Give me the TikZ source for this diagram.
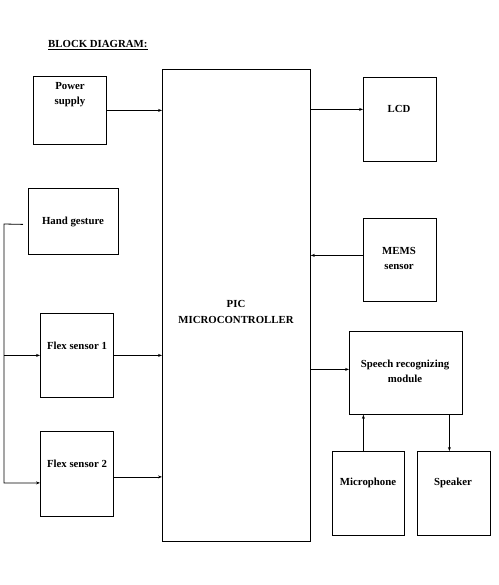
\documentclass[tikz,border=0pt]{standalone}
\usepackage{fontspec}
\setmainfont{Liberation Serif}
\usetikzlibrary{arrows.meta}
\begin{document}
\begin{tikzpicture}[x=1pt,y=-1pt,
  blk/.style={draw,line width=0.8pt,inner sep=0pt,anchor=north west},
  lbl/.style={font=\fontsize{10.8}{12}\selectfont\bfseries,align=center,inner sep=0pt},
  arr/.style={line width=0.8pt,-{Stealth[length=4pt,width=3pt]}}]
\useasboundingbox (0,0) rectangle (498,585);
\node[anchor=west,inner sep=0pt,font=\fontsize{10.8}{12}\selectfont\bfseries] (title) at (48,45) {\underline{BLOCK DIAGRAM:}};
% boxes
\node[blk,minimum width=73pt,minimum height=68pt] (ps) at (33,76) {};
\node[blk,minimum width=148pt,minimum height=472pt] (pic) at (162,69) {};
\node[blk,minimum width=73pt,minimum height=84pt] (lcd) at (363,77) {};
\node[blk,minimum width=73pt,minimum height=83pt] (mems) at (363,218) {};
\node[blk,minimum width=90pt,minimum height=66pt] (hg) at (28,188) {};
\node[blk,minimum width=73pt,minimum height=84pt] (f1) at (40,313) {};
\node[blk,minimum width=73pt,minimum height=85pt] (f2) at (40,431) {};
\node[blk,minimum width=113pt,minimum height=83pt] (sr) at (349,331) {};
\node[blk,minimum width=72pt,minimum height=84pt] (mic) at (332,451) {};
\node[blk,minimum width=73pt,minimum height=84pt] (spk) at (417,451) {};
% labels
\node[lbl] (psT) at (70,95) {Power\\[3pt]supply};
\node[lbl] (picT) at (236,312) {PIC\\[4pt]MICROCONTROLLER};
\node[lbl] (lcdT) at (399,109) {LCD};
\node[lbl] (memsT) at (399,258) {MEMS\\[3pt]sensor};
\node[lbl] (hgT) at (73,222) {Hand gesture};
\node[lbl] (f1T) at (77,346) {Flex sensor 1};
\node[lbl] (f2T) at (77,464) {Flex sensor 2};
\node[lbl] (srT) at (405,371) {Speech recognizing\\[3pt]module};
\node[lbl] (micT) at (368,483) {Microphone};
\node[lbl] (spkT) at (453,483) {Speaker};
% connectors
\draw[arr] (ps.east) -- (ps.east -| pic.west);
\draw[arr] ([yshift=10pt]lcd.west -| pic.east) -- ([yshift=10pt]lcd.west);
\draw[arr] ([yshift=4.5pt]mems.west) -- ([yshift=4.5pt]mems.west -| pic.east);
\draw[arr] ([yshift=3.5pt]sr.west -| pic.east) -- ([yshift=3.5pt]sr.west);
\draw[arr] (f1.east) -- (f1.east -| pic.west);
\draw[arr] ([yshift=-3pt]f2.east) -- ([yshift=-3pt]f2.east -| pic.west);
\draw[arr] ([xshift=-5pt]mic.north) -- ([xshift=-5pt]mic.north |- sr.south);
\draw[arr] ([xshift=-4.5pt]spk.north |- sr.south) -- ([xshift=-4.5pt]spk.north);
\coordinate (hgS) at ([xshift=-5pt,yshift=-3pt]hg.west);
\coordinate (bus) at (4,224);
\draw[arr] (hgS) -- (bus) |- ([yshift=-9pt]f2.west);
\draw[arr] (bus |- f1.west) -- (f1.west);
\end{tikzpicture}
\end{document}
